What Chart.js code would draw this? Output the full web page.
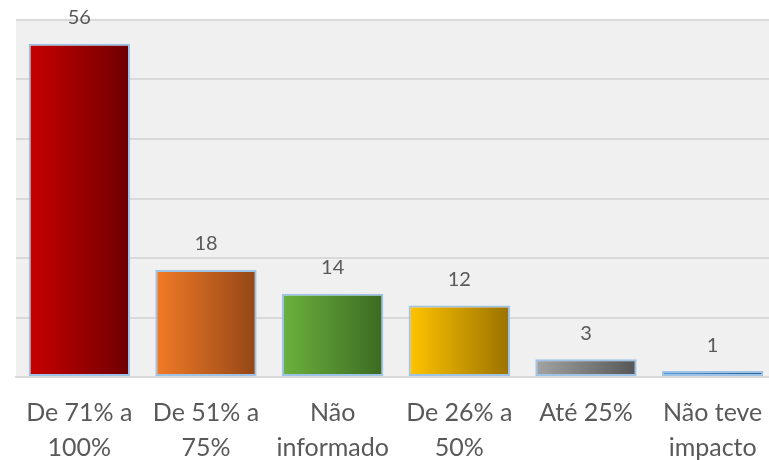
<!DOCTYPE html>
<html>
<head>
<meta charset="utf-8">
<script src="https://cdn.jsdelivr.net/npm/chart.js@4.4.0/dist/chart.umd.min.js"></script>
<style>
  html, body { margin: 0; padding: 0; background: #fff; overflow: hidden; }
  #wrap { width: 776px; height: 475px; }
</style>
</head>
<body>
<div id="wrap"><canvas id="barChart"></canvas></div>
<script>
// data
var categories = [["De 71% a", "100%"], ["De 51% a", "75%"], ["Não", "informado"], ["De 26% a", "50%"], "Até 25%", ["Não teve", "impacto"]];
var values = [56, 18, 14, 12, 3, 1];
var colorsFrom = ['#c80000', '#f27b27', '#6cb23d', '#ffc400', '#a3a3a3', '#5b9bd5'];
var colorsTo = ['#6e0000', '#934616', '#3b6a22', '#9a7200', '#565656', '#2d5f8c'];

var plotBg = {
  id: 'plotBg',
  beforeDraw: function(chart) {
    var a = chart.chartArea, c = chart.ctx;
    c.save();
    c.fillStyle = '#f0f0f0';
    c.fillRect(a.left, a.top, a.right - a.left, a.bottom - a.top);
    c.restore();
  }
};

var valueLabels = {
  id: 'valueLabels',
  afterDatasetsDraw: function(chart) {
    var c = chart.ctx;
    c.save();
    c.font = '20px Lato';
    c.fillStyle = '#595959';
    c.textAlign = 'center';
    c.textBaseline = 'middle';
    chart.getDatasetMeta(0).data.forEach(function(bar, i) {
      c.fillText(values[i], bar.x, bar.y - 26);
    });
    c.restore();
  }
};

var barFill = function(ctx) {
  var chart = ctx.chart;
  var i = ctx.dataIndex;
  if (!chart.chartArea || !chart.scales.x) return colorsFrom[i];
  var x = chart.scales.x.getPixelForValue(i);
  var half = chart.scales.x.width / values.length * 0.8 / 2;
  var g = chart.ctx.createLinearGradient(x - half, 0, x + half, 0);
  g.addColorStop(0, colorsFrom[i]);
  g.addColorStop(1, colorsTo[i]);
  return g;
};

var ctx = document.getElementById('barChart').getContext('2d');
var myChart = new Chart(ctx, {
  type: 'bar',
  data: {
    labels: categories,
    datasets: [{
      data: values,
      backgroundColor: barFill,
      borderColor: '#9dc3e6',
      borderWidth: 2,
      borderSkipped: false,
      barPercentage: 0.8,
      categoryPercentage: 1
    }]
  },
  options: {
    responsive: true,
    maintainAspectRatio: false,
    animation: false,
    layout: { padding: { left: 16, top: 20, right: 0, bottom: 0 } },
    plugins: {
      legend: { display: false },
      tooltip: { enabled: false }
    },
    scales: {
      x: {
        grid: { display: false },
        border: { color: '#d9d9d9', width: 2 },
        ticks: {
          color: '#595959',
          font: { family: 'Lato', size: 25, lineHeight: 1.4 },
          padding: 10,
          maxRotation: 0,
          autoSkip: false
        }
      },
      y: {
        min: 0,
        max: 60,
        ticks: { stepSize: 10, display: false },
        border: { display: false },
        grid: { color: '#d9d9d9', lineWidth: 2, drawTicks: false }
      }
    }
  },
  plugins: [plotBg, valueLabels]
});
</script>
</body>
</html>
